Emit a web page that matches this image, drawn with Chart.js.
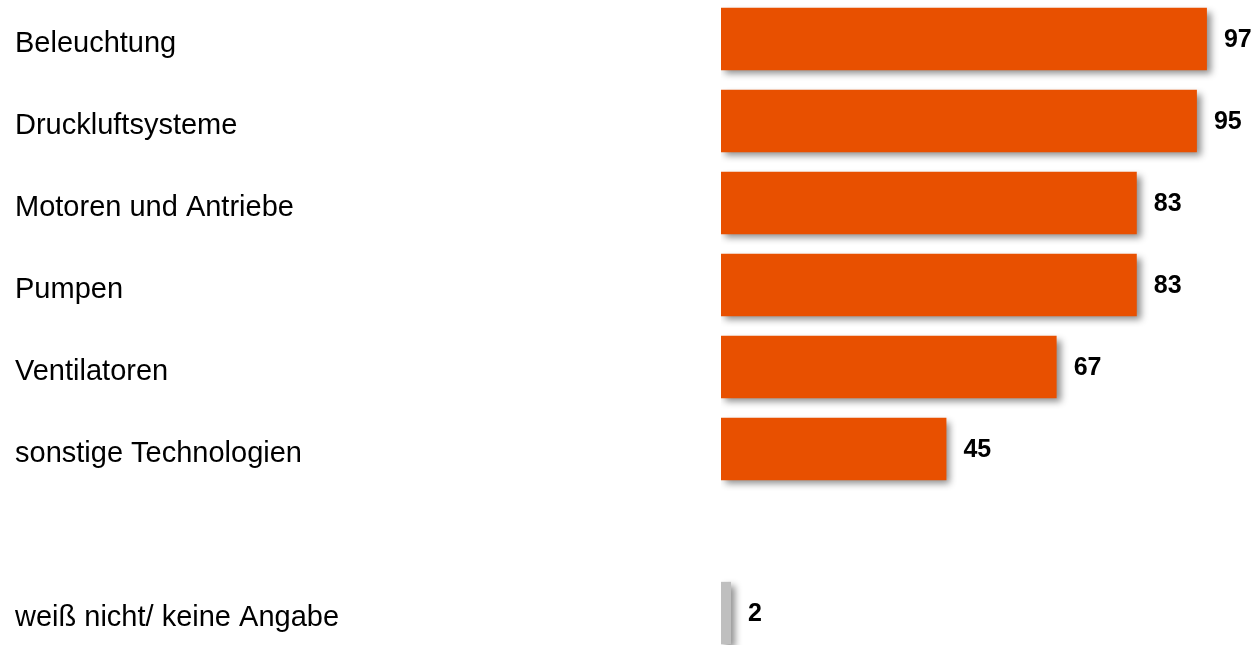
<!DOCTYPE html>
<html lang="de">
<head>
<meta charset="utf-8">
<script src="https://cdn.jsdelivr.net/npm/chart.js@4"></script>
<style>
  html, body { margin: 0; padding: 0; background: #fff; overflow: hidden; }
  #chart { display: block; position: absolute; left: 0; top: -2px; }
</style>
</head>
<body>
<canvas id="chart" width="1255" height="656"></canvas>
<script>
const categories = [
  'Beleuchtung',
  'Druckluftsysteme',
  'Motoren und Antriebe',
  'Pumpen',
  'Ventilatoren',
  'sonstige Technologien',
  '',
  'weiß nicht/ keine Angabe',
]
const values = [97, 95, 83, 83, 67, 45, null, 2]
const barColors = ['#E85000', '#E85000', '#E85000', '#E85000', '#E85000', '#E85000', '#E85000', '#BFBFBF']

// soft drop shadow under the bars
const barShadow = {
  id: 'barShadow',
  beforeDatasetsDraw(chart) {
    const ctx = chart.ctx
    ctx.save()
    ctx.shadowColor = 'rgba(0, 0, 0, 0.45)'
    ctx.shadowBlur = 7
    ctx.shadowOffsetX = 4
    ctx.shadowOffsetY = 4
  },
  afterDatasetsDraw(chart) {
    chart.ctx.restore()
  },
}

// bold numbers to the right of each bar
const valueLabels = {
  id: 'valueLabels',
  afterDatasetsDraw(chart) {
    const ctx = chart.ctx
    const meta = chart.getDatasetMeta(0)
    ctx.save()
    ctx.font = 'bold 25px "Liberation Sans", Arial, sans-serif'
    ctx.fillStyle = '#000'
    ctx.textAlign = 'left'
    ctx.textBaseline = 'middle'
    meta.data.forEach((bar, i) => {
      if (values[i] == null) return
      ctx.fillText(String(values[i]), bar.x + 17, bar.y + 1)
    })
    ctx.restore()
  },
}

new Chart(document.getElementById('chart'), {
  type: 'bar',
  data: {
    labels: categories,
    datasets: [
      {
        data: values,
        backgroundColor: barColors,
        borderWidth: 0,
        categoryPercentage: 1,
        barPercentage: 0.76,
      },
    ],
  },
  options: {
    indexAxis: 'y',
    responsive: false,
    animation: false,
    layout: { autoPadding: false, padding: { left: 15, right: 0, top: 0, bottom: 0 } },
    plugins: {
      legend: { display: false },
      tooltip: { enabled: false },
    },
    scales: {
      x: {
        display: false,
        min: 0,
        max: 106.6,
      },
      y: {
        grid: { display: false },
        border: { display: false },
        ticks: {
          crossAlign: 'far',
          color: '#000',
          font: { family: '"Liberation Sans", Arial, sans-serif', size: 29 },
          padding: 0,
          labelOffset: 5,
        },
        afterFit(scale) {
          // fixed label column, no extra room for the outer labels
          scale.width = 706
          scale.paddingTop = 0
          scale.paddingBottom = 0
        },
      },
    },
  },
  plugins: [barShadow, valueLabels],
})
</script>
</body>
</html>
